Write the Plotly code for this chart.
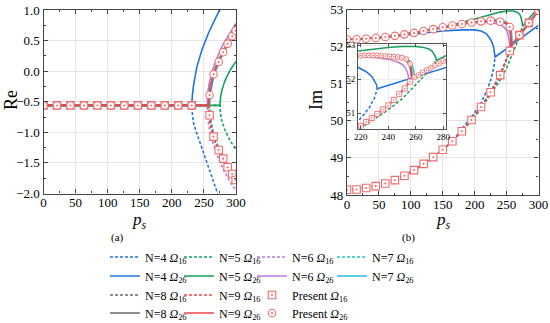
import plotly.graph_objects as go

# ---------------- colours ----------------
C4, C5, C6, C7, C8, C9 = "#1f74e0", "#17a05d", "#c07ad8", "#22c4cc", "#6a6a6a", "#ef4747"
CP = "#f26b6b"

# ---------------- Re data (panel a) ----------------
re26_ps_4 = [0, 231, 232, 234, 239, 247, 257, 267.7, 276]
re26_4 = [-0.56, -0.56, -0.40, -0.22, 0.07, 0.35, 0.62, 0.86, 1.04]
re16_ps_4 = [0, 231, 232, 234, 239, 249.5, 260, 270.4, 273]
re16_4 = [-0.56, -0.56, -0.70, -0.86, -1.02, -1.35, -1.65, -1.97, -2.05]

re_ps_5 = [0, 275, 276, 278, 283, 291, 300]
re26_5 = [-0.56, -0.56, -0.42, -0.31, -0.15, 0.02, 0.16]
re16_5 = [-0.56, -0.56, -0.70, -0.81, -0.97, -1.14, -1.28]

re_ps_6 = [0, 255, 256, 258, 262, 270, 280, 290, 300]
re26_6 = [-0.56, -0.56, -0.36, -0.21, -0.03, 0.21, 0.44, 0.62, 0.78]
re16_6 = [-0.56, -0.56, -0.77, -0.92, -1.11, -1.36, -1.60, -1.80, -1.95]

re_ps_7 = [0, 259, 260, 262, 265, 270, 280, 290, 300]
re26_7 = [-0.56, -0.56, -0.375, -0.24, -0.11, 0.05, 0.29, 0.47, 0.62]
re16_7 = [-0.56, -0.56, -0.745, -0.88, -1.01, -1.17, -1.41, -1.59, -1.74]

re_ps_8 = [0, 257, 258, 260, 265, 270, 280, 290, 300]
re26_8 = [-0.56, -0.56, -0.38, -0.24, -0.04, 0.11, 0.33, 0.50, 0.66]
re16_8 = [-0.56, -0.56, -0.74, -0.88, -1.08, -1.23, -1.45, -1.62, -1.78]

re_ps_9 = [0, 257.5, 258, 259, 261, 265, 270, 275, 280, 287, 294, 300]
re26_9 = [-0.56, -0.56, -0.45, -0.36, -0.22, -0.04, 0.10, 0.22, 0.32, 0.45, 0.57, 0.66]
re16_9 = [-0.56, -0.56, -0.66, -0.74, -0.88, -1.07, -1.22, -1.34, -1.44, -1.57, -1.68, -1.78]

pres_re_ps = [0, 21, 42, 63, 84, 105, 126, 147, 168, 189, 210, 231,
              258.8, 265, 273, 280, 287, 294, 299.5]
pres_re26 = [-0.56] * 12 + [-0.39, -0.05, 0.15, 0.31, 0.45, 0.57, 0.66]
pres_re16 = [-0.56] * 12 + [-0.72, -1.07, -1.29, -1.43, -1.57, -1.68, -1.78]

# ---------------- Im data (panel b) ----------------
ps_common = [0, 15, 30, 45, 60, 75, 90, 105, 120, 135, 150]
im26_common = [52.19, 52.20, 52.21, 52.23, 52.26, 52.29, 52.33, 52.37, 52.42, 52.47, 52.52]
im16_common = [48.14, 48.15, 48.19, 48.24, 48.31, 48.40, 48.52, 48.67, 48.84, 49.02, 49.22]

im26_ps_4 = [0, 30, 60, 90, 120, 150, 180, 200, 210, 218, 224, 228, 230, 231.5, 232, 300]
im26_4 = [52.19, 52.21, 52.25, 52.31, 52.37, 52.42, 52.45, 52.45, 52.42, 52.35, 52.22,
          52.08, 51.96, 51.84, 51.72, 52.57]
im16_ps_4 = ps_common + [165, 180, 195, 210, 220, 226, 230, 232]
im16_4 = im16_common + [49.45, 49.78, 50.10, 50.48, 50.85, 51.15, 51.45, 51.72]

im26_ps_5 = ps_common + [165, 180, 195, 210, 220, 230, 240, 250, 260, 266, 270, 272, 273.5,
                         274.5, 275, 285, 300]
im26_5 = im26_common + [52.58, 52.65, 52.72, 52.79, 52.84, 52.89, 52.93, 52.96, 52.96, 52.93,
                        52.88, 52.82, 52.74, 52.65, 52.55, 52.75, 53.06]
im16_ps_5 = ps_common + [165, 180, 195, 210, 225, 240, 250, 260, 265, 270, 273, 275]
im16_5 = im16_common + [49.45, 49.72, 50.00, 50.33, 50.70, 51.10, 51.42, 51.82, 52.05, 52.28,
                        52.43, 52.55]

im26_ps_6 = ps_common + [165, 180, 195, 210, 220, 230, 240, 246, 250, 252, 253.5, 254.5, 255,
                         265, 270, 280, 290, 300]
im26_6 = im26_common + [52.57, 52.61, 52.64, 52.66, 52.66, 52.64, 52.59, 52.52, 52.44, 52.36,
                        52.25, 52.12, 51.95, 52.17, 52.29, 52.51, 52.73, 52.95]
im16_ps_6 = ps_common + [165, 180, 195, 210, 225, 240, 248, 252, 255]
im16_6 = im16_common + [49.45, 49.72, 50.02, 50.37, 50.77, 51.23, 51.57, 51.75, 51.95]

im26_ps_7 = ps_common + [165, 180, 195, 210, 220, 230, 240, 248, 253, 256, 257.5, 258.5, 259,
                         270, 280, 290, 300]
im26_7 = im26_common + [52.57, 52.61, 52.65, 52.69, 52.71, 52.73, 52.72, 52.68, 52.62, 52.52,
                        52.40, 52.25, 52.08, 52.32, 52.54, 52.76, 52.97]
im16_ps_7 = ps_common + [165, 180, 195, 210, 225, 240, 250, 255, 259]
im16_7 = im16_common + [49.45, 49.72, 50.02, 50.37, 50.77, 51.23, 51.64, 51.88, 52.08]

im26_ps_8 = ps_common + [165, 180, 195, 210, 220, 230, 240, 245, 250, 253, 255, 256, 256.7, 257,
                         265, 270, 280, 290, 300]
im26_8 = im26_common + [52.57, 52.61, 52.65, 52.68, 52.69, 52.70, 52.67, 52.65, 52.61, 52.55,
                        52.45, 52.33, 52.18, 52.02, 52.20, 52.31, 52.53, 52.75, 52.97]
im16_ps_8 = ps_common + [165, 180, 195, 210, 225, 240, 250, 255, 257]
im16_8 = im16_common + [49.45, 49.72, 50.02, 50.37, 50.77, 51.23, 51.64, 51.88, 52.02]

im26_ps_9 = ps_common + [165, 180, 195, 210, 220, 225, 230, 235, 240, 245, 250, 253, 255, 256,
                         257, 257.5, 265, 270, 280, 290, 300]
im26_9 = im26_common + [52.57, 52.61, 52.65, 52.68, 52.69, 52.70, 52.70, 52.69, 52.67, 52.66,
                        52.63, 52.59, 52.53, 52.45, 52.28, 52.03, 52.20, 52.31, 52.53, 52.75, 52.97]
im16_ps_9 = ps_common + [165, 180, 195, 210, 225, 240, 250, 255, 257.5]
im16_9 = im16_common + [49.45, 49.72, 50.02, 50.37, 50.77, 51.23, 51.64, 51.88, 52.03]

pres_im_ps = [0, 15, 30, 45, 60, 75, 90, 105, 120, 135, 150, 165, 180, 195, 210, 225, 240,
              255, 270, 285, 300]
pres_im26 = [52.19, 52.20, 52.21, 52.23, 52.26, 52.29, 52.33, 52.37, 52.42, 52.47, 52.52, 52.57,
             52.61, 52.65, 52.68, 52.70, 52.67, 52.53, 52.31, 52.64, 52.97]
pres_im16 = [48.14, 48.15, 48.19, 48.24, 48.31, 48.40, 48.52, 48.67, 48.84, 49.02, 49.22, 49.45,
             49.72, 50.02, 50.37, 50.77, 51.23, 51.88, 52.31, 52.64, 52.97]

# inset "present" markers (finer sampling)
pins_ps26 = [220, 223, 226, 229, 232, 235, 238, 241, 244, 247, 250, 253, 256,
             259, 262, 265, 268, 271, 274, 277, 280]
pins_im26 = [52.69, 52.70, 52.70, 52.70, 52.70, 52.69, 52.68, 52.67, 52.66, 52.65, 52.63, 52.59,
             52.45, 52.06, 52.12, 52.20, 52.27, 52.33, 52.40, 52.46, 52.53]
pins_ps16 = [220, 224, 228, 232, 236, 240, 244, 248, 252, 256]
pins_im16 = [50.63, 50.74, 50.86, 50.98, 51.11, 51.23, 51.39, 51.56, 51.73, 51.93]

FONT = "Liberation Serif, Times New Roman, serif"
W, H = 550, 323

# legend grid (pixel anchors: line start x of each column, row centre y)
leg_cols = [112, 186, 259, 339]
leg_rows = [257, 276, 295, 313]

series = [
    ("4", C4, (0, 0), (0, 1), (re16_ps_4, re16_4), (re26_ps_4, re26_4), (im16_ps_4, im16_4), (im26_ps_4, im26_4)),
    ("5", C5, (1, 0), (1, 1), (re_ps_5, re16_5), (re_ps_5, re26_5), (im16_ps_5, im16_5), (im26_ps_5, im26_5)),
    ("6", C6, (2, 0), (2, 1), (re_ps_6, re16_6), (re_ps_6, re26_6), (im16_ps_6, im16_6), (im26_ps_6, im26_6)),
    ("7", C7, (3, 0), (3, 1), (re_ps_7, re16_7), (re_ps_7, re26_7), (im16_ps_7, im16_7), (im26_ps_7, im26_7)),
    ("8", C8, (0, 2), (0, 3), (re_ps_8, re16_8), (re_ps_8, re26_8), (im16_ps_8, im16_8), (im26_ps_8, im26_8)),
    ("9", C9, (1, 2), (1, 3), (re_ps_9, re16_9), (re_ps_9, re26_9), (im16_ps_9, im16_9), (im26_ps_9, im26_9)),
]

legend_layout = {}
def legend_at(cell):
    c, r = cell
    key = "legend" if not legend_layout else f"legend{len(legend_layout) + 1}"
    legend_layout[key] = dict(x=(leg_cols[c] - 7) / W, y=1 - leg_rows[r] / H,
                              xanchor="left", yanchor="middle", orientation="v",
                              bgcolor="rgba(0,0,0,0)", borderwidth=0,
                              font=dict(family=FONT, size=12, color="black"))
    return key

DASH = "3px,2px"
fig = go.Figure()

def line(x, y, color, dash, xa, ya, width=1.6, name=None, legend=None, show=False):
    fig.add_trace(go.Scatter(x=x, y=y, mode="lines", name=name, legend=legend or "legend",
                             showlegend=show, hoverinfo="skip", xaxis=xa, yaxis=ya,
                             line=dict(color=color, width=width, dash=dash)))

for n, col, c16, c26, r16, r26, i16, i26 in series:
    line(*r16, col, DASH, "x", "y", name=f"N={n} <i>Ω</i><sub>16</sub>", legend=legend_at(c16), show=True)
    line(*r26, col, "solid", "x", "y", name=f"N={n} <i>Ω</i><sub>26</sub>", legend=legend_at(c26), show=True)
    line(*i16, col, DASH, "x2", "y2")
    line(*i26, col, "solid", "x2", "y2")

for n, col, c16, c26, r16, r26, i16, i26 in series:
    line(*i16, col, DASH, "x3", "y3", width=1.5)
    line(*i26, col, "solid", "x3", "y3", width=1.5)

def markers(x, y, sym, xa, ya, size=7.5, name=None, legend=None, show=False, lw=1.1):
    fig.add_trace(go.Scatter(x=x, y=y, mode="markers", name=name, legend=legend or "legend",
                             showlegend=show, hoverinfo="skip", xaxis=xa, yaxis=ya,
                             marker=dict(symbol=sym, size=size, color="white",
                                         line=dict(color=CP, width=lw))))

markers(pres_re_ps, pres_re16, "square-dot", "x", "y", name="Present <i>Ω</i><sub>16</sub>",
        legend=legend_at((2, 2)), show=True)
markers(pres_re_ps, pres_re26, "circle-dot", "x", "y", name="Present <i>Ω</i><sub>26</sub>",
        legend=legend_at((2, 3)), show=True)
markers(pres_im_ps, pres_im16, "square-dot", "x2", "y2")
markers(pres_im_ps, pres_im26, "circle-dot", "x2", "y2")
markers(pins_ps16, pins_im16, "square-dot", "x3", "y3", size=5, lw=0.9)
markers(pins_ps26, pins_im26, "circle-dot", "x3", "y3", size=5, lw=0.9)

def px_x(a, b):
    return [a / W, b / W]
def px_y(top, bottom):
    return [1 - bottom / H, 1 - top / H]

axis_common = dict(showline=True, linecolor="#444", linewidth=1.3, mirror="ticks",
                   ticks="inside", ticklen=4, tickcolor="#444", showgrid=True,
                   gridcolor="#e4e4e4", gridwidth=0.8, zeroline=False, automargin=False,
                   tickfont=dict(family=FONT, size=13, color="black"))
inset_common = dict(showline=True, linecolor="#555", linewidth=1, mirror="ticks",
                    ticks="inside", ticklen=3, tickcolor="#555", showgrid=True,
                    gridcolor="#ececec", zeroline=False, automargin=False,
                    tickfont=dict(family=FONT, size=9, color="black"))

def note(text, x, y, size, angle=0):
    return dict(text=text, x=x / W, y=1 - y / H, xref="paper", yref="paper",
                xanchor="center", yanchor="middle", textangle=angle, showarrow=False,
                font=dict(family=FONT, size=size, color="black"))

fig.update_layout(
    width=W, height=H, margin=dict(l=0, r=0, t=0, b=0, autoexpand=False),
    paper_bgcolor="white", plot_bgcolor="white",
    font=dict(family=FONT, color="black"),
    xaxis=dict(domain=px_x(43.5, 236), range=[0, 300], dtick=50, anchor="y",
               minor=dict(ticks="inside", ticklen=2, dtick=25, tickcolor="#444"),
               ticklabelstandoff=-3, **axis_common),
    yaxis=dict(domain=px_y(10, 193.5), range=[-2, 1], dtick=0.5, tickformat=".1f", anchor="x",
               minor=dict(ticks="inside", ticklen=2, dtick=0.25, tickcolor="#444"),
               **axis_common),
    xaxis2=dict(domain=px_x(347, 538.5), range=[0, 300], dtick=50, anchor="y2",
                minor=dict(ticks="inside", ticklen=2, dtick=25, tickcolor="#444"),
                ticklabelstandoff=-3, **axis_common),
    yaxis2=dict(domain=px_y(9.5, 195), range=[48, 53], dtick=1, anchor="x2",
                minor=dict(ticks="inside", ticklen=2, dtick=0.5, tickcolor="#444"),
                **axis_common),
    xaxis3=dict(domain=px_x(358, 446), range=[218, 282], tickvals=[220, 240, 260, 280],
                anchor="y3", **inset_common),
    yaxis3=dict(domain=px_y(43.5, 128.5), range=[50.55, 53.05], tickvals=[51, 52, 53],
                anchor="x3", **inset_common),
    annotations=[
        note("Re", 11, 100, 18, -90),
        note("Im", 316, 100, 18, -90),
        note("<i>p</i><sub><i>s</i></sub>", 139, 221, 17),
        note("<i>p</i><sub><i>s</i></sub>", 443, 221, 17),
        note("(a)", 117, 237, 11),
        note("(b)", 408, 237, 11),
    ],
    **legend_layout,
)

fig.write_html("out.html", config={"displayModeBar": False},
               post_script="document.body.style.margin='0';document.body.style.padding='0';")
